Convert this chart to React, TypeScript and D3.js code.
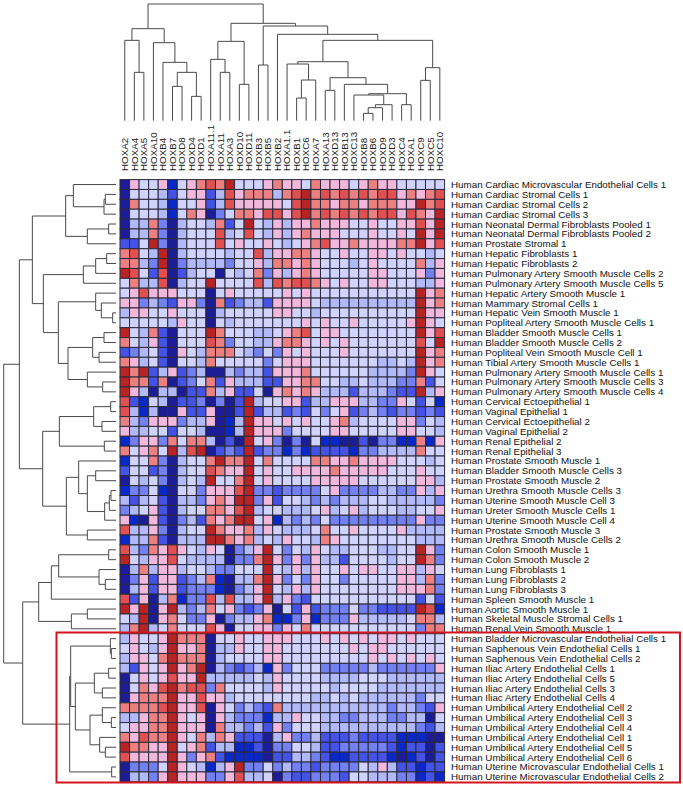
import React from "react";
import * as d3 from "d3";

const genes = ["HOXA2","HOXA4","HOXA5","HOXA10","HOXB4","HOXB7","HOXD8","HOXD4","HOXD1","HOXA11.1","HOXA11","HOXA3","HOXD10","HOXD11","HOXB3","HOXB5","HOXB2","HOXA1.1","HOXB1","HOXC6","HOXA7","HOXA13","HOXD13","HOXB13","HOXC13","HOXB8","HOXB6","HOXD9","HOXD3","HOXC4","HOXA1","HOXC9","HOXC5","HOXC10"];

const samples = [
"Cardiac Microvascular Endothelial Cells 1","Cardiac Stromal Cells 1","Cardiac Stromal Cells 2","Cardiac Stromal Cells 3","Neonatal Dermal Fibroblasts Pooled 1","Neonatal Dermal Fibroblasts Pooled 2","Prostate Stromal 1","Hepatic Fibroblasts 1","Hepatic Fibroblasts 2","Pulmonary Artery Smooth Muscle Cells 2","Pulmonary Artery Smooth Muscle Cells 5","Hepatic Artery Smooth Muscle 1","Mammary Stromal Cells 1","Hepatic Vein Smooth Muscle 1","Popliteal Artery Smooth Muscle Cells 1","Bladder Smooth Muscle Cells 1","Bladder Smooth Muscle Cells 2","Popliteal Vein Smooth Muscle Cell 1","Tibial Artery Smooth Muscle Cells 1","Pulmonary Artery Smooth Muscle Cells 1","Pulmonary Artery Smooth Muscle Cells 3","Pulmonary Artery Smooth Muscle Cells 4","Cervical Ectoepithelial 1","Vaginal Epithelial 1","Cervical Ectoepithelial 2","Vaginal Epithelial 2","Renal Epithelial 2","Renal Epithelial 3","Prostate Smooth Muscle 1","Bladder Smooth Muscle Cells 3","Prostate Smooth Muscle 2","Urethra Smooth Muscle Cells 3","Uterine Smooth Muscle Cell 3","Ureter Smooth Muscle Cells 1","Uterine Smooth Muscle Cell 4","Prostate Smooth Muscle 3","Urethra Smooth Muscle Cells 2","Colon Smooth Muscle 1","Colon Smooth Muscle 2","Lung Fibroblasts 1","Lung Fibroblasts 2","Lung Fibroblasts 3","Spleen Smooth Muscle 1","Aortic Smooth Muscle 1","Skeletal Muscle Stromal Cells 1","Renal Vein Smooth Muscle 1","Bladder Microvascular Endothelial Cells 1","Saphenous Vein Endothelial Cells 1","Saphenous Vein Endothelial Cells 2","Iliac Artery Endothelial Cells 1","Iliac Artery Endothelial Cells 5","Iliac Artery Endothelial Cells 3","Iliac Artery Endothelial Cells 4","Umbilical Artery Endothelial Cell 2","Umbilical Artery Endothelial Cell 3","Umbilical Artery Endothelial Cell 4","Umbilical Artery Endothelial Cell 1","Umbilical Artery Endothelial Cell 5","Umbilical Artery Endothelial Cell 6","Uterine Microvascular Endothelial Cells 1","Uterine Microvascular Endothelial Cells 2",
].map((s) => "Human " + s);

const expression = [
"0 6 5 5 6 1 5 6 7 8 7 9 5 5 5 6 7 6 6 5 7 6 6 6 5 6 7 6 6 5 5 5 5 5",
"0 5 5 5 4 2 5 6 6 2 4 8 6 7 7 7 4 7 8 9 7 8 7 8 7 8 7 8 8 6 7 6 7 8",
"0 7 5 5 4 1 5 5 6 2 4 8 6 6 6 6 6 5 8 9 7 7 6 7 7 6 7 7 7 6 6 9 7 8",
"0 5 5 5 4 1 5 7 6 0 3 5 7 7 6 8 8 6 8 9 7 8 7 8 7 8 7 8 8 6 8 7 6 9",
"0 4 4 7 3 0 4 5 5 4 7 2 5 9 5 4 6 4 6 6 7 6 6 6 5 5 6 5 5 6 6 8 6 9",
"0 4 4 7 3 0 4 5 5 5 8 4 5 8 5 4 6 4 6 7 6 6 6 5 5 5 6 5 5 6 5 9 6 9",
"2 2 5 9 3 0 4 5 5 5 8 5 6 5 5 6 5 4 5 6 7 8 6 6 7 6 6 6 6 7 7 9 6 8",
"7 8 5 4 9 0 4 5 5 5 5 4 5 5 8 4 6 6 7 7 6 5 5 6 5 5 6 6 5 6 5 5 4 5",
"7 7 4 3 9 0 3 4 4 4 4 3 5 5 6 4 7 7 6 7 6 5 5 5 4 5 6 5 5 5 5 7 4 6",
"9 8 5 2 8 0 2 4 5 5 0 5 4 5 7 3 6 4 6 7 6 5 5 5 5 5 6 6 5 5 5 6 3 6",
"5 7 4 4 8 0 4 5 5 9 5 5 5 5 8 4 8 7 8 8 7 6 5 6 5 5 6 6 5 5 5 4 4 6",
"5 6 8 6 6 6 5 5 5 0 5 6 5 5 5 5 5 6 5 6 5 5 5 5 5 5 5 5 5 5 5 9 6 7",
"6 6 3 4 3 2 6 6 3 0 7 2 3 4 4 2 6 6 6 6 5 4 4 4 4 4 4 4 4 4 4 9 6 7",
"4 6 6 5 5 6 5 5 5 0 4 5 5 5 5 5 6 6 5 5 4 5 5 5 5 5 5 5 5 5 5 9 6 6",
"5 5 5 5 5 4 6 5 5 0 5 4 5 5 5 5 5 5 5 6 5 6 5 5 6 5 5 5 5 5 6 9 6 5",
"9 5 4 7 2 0 5 5 5 9 7 5 5 5 4 4 5 6 7 8 5 6 6 5 5 5 5 5 5 5 5 9 6 8",
"7 5 4 6 2 0 5 5 5 8 7 3 5 5 4 4 6 7 7 6 5 6 5 6 5 5 5 5 5 5 5 8 5 9",
"2 3 4 5 2 0 6 5 4 7 7 7 5 4 3 5 3 6 5 6 5 5 5 6 5 5 5 5 5 5 5 9 6 7",
"7 6 4 5 2 0 5 5 4 7 5 5 5 5 5 3 5 6 6 6 5 5 5 5 5 5 5 4 4 5 4 9 6 7",
"9 7 9 2 4 6 2 3 4 0 0 4 3 4 4 2 6 6 6 7 5 5 5 5 5 5 4 4 4 4 3 9 6 5",
"9 7 7 2 7 0 2 3 5 7 2 6 4 4 4 2 2 6 6 7 7 5 5 4 4 5 4 4 4 3 3 7 2 5",
"9 6 4 0 4 4 0 2 2 7 4 6 2 2 5 0 6 7 6 7 6 4 4 4 2 4 4 4 3 2 2 9 4 6",
"8 2 1 5 4 0 2 2 3 0 3 0 2 9 4 5 5 6 6 2 4 4 6 6 6 4 4 3 3 6 5 2 5 1",
"8 4 1 4 0 0 6 2 2 6 0 0 2 9 2 4 4 2 3 2 5 3 5 6 2 3 4 3 2 3 3 2 3 2",
"7 4 3 6 6 6 3 4 4 6 0 1 4 9 6 6 5 6 5 6 5 5 6 7 4 5 5 5 5 6 6 3 5 4",
"6 4 4 5 5 2 5 5 4 0 0 1 4 9 6 6 6 3 5 5 5 5 6 6 5 5 5 5 5 6 6 5 5 4",
"1 3 6 6 3 7 5 7 7 4 0 2 0 9 5 6 3 0 3 0 5 1 1 0 0 2 0 3 3 1 1 7 1 6",
"7 5 6 7 5 9 4 8 9 0 2 3 2 9 2 3 3 1 3 1 2 2 2 2 1 3 3 4 4 4 4 7 5 5",
"1 5 5 7 3 0 4 5 5 7 9 7 7 9 5 7 5 5 5 5 7 7 6 6 7 6 6 6 6 5 5 5 4 5",
"2 5 5 2 3 0 4 5 5 8 7 6 6 9 5 6 5 5 6 6 6 6 7 6 6 6 6 6 5 5 5 6 5 5",
"0 5 4 5 3 0 4 5 4 9 5 5 7 9 5 6 5 5 5 5 6 6 6 6 6 5 5 5 5 5 5 6 6 4",
"1 3 3 5 1 0 5 5 3 6 6 6 8 9 3 3 2 3 3 3 3 5 6 3 3 3 3 4 4 3 3 6 4 6",
"4 2 4 5 2 0 4 4 3 6 7 6 9 9 3 6 2 5 5 4 3 4 3 4 4 4 5 5 4 4 4 4 4 3",
"3 4 5 6 2 0 4 5 5 7 7 6 8 9 4 5 5 4 4 4 5 6 4 5 6 4 5 5 5 4 4 5 5 6",
"6 1 0 6 2 0 3 4 2 7 6 7 9 9 5 6 1 4 3 4 3 5 3 3 3 3 3 3 3 3 3 6 3 3",
"8 4 4 6 3 0 4 5 5 9 7 6 6 7 4 6 5 4 4 4 5 7 5 5 6 5 5 5 5 6 4 4 4 4",
"1 4 4 7 2 0 4 4 4 9 9 7 6 7 4 5 4 6 5 5 4 7 6 5 5 5 5 5 5 5 5 4 4 4",
"8 4 3 7 6 8 6 5 4 6 5 0 3 4 6 9 5 3 5 4 6 5 4 4 5 5 5 4 4 5 5 9 6 3",
"9 5 4 6 6 8 5 4 4 4 4 0 3 3 7 9 6 3 6 3 6 4 4 2 5 5 5 5 4 5 5 9 7 3",
"0 4 7 4 6 6 4 5 5 4 3 3 5 5 5 9 5 4 6 4 6 5 5 6 5 6 6 5 5 6 6 4 6 5",
"0 3 6 2 6 6 2 3 4 7 1 0 4 4 7 9 6 3 5 3 6 5 5 3 5 5 5 5 5 6 6 4 7 3",
"0 4 6 2 6 6 2 3 3 3 1 0 3 4 6 9 5 4 6 4 6 5 5 5 5 5 5 5 5 6 6 6 7 3",
"8 2 6 0 4 7 1 3 3 8 4 8 4 4 6 9 4 6 3 2 5 5 5 5 5 5 5 5 5 5 5 2 5 2",
"9 6 9 0 6 9 4 3 4 7 5 6 3 2 3 6 0 5 2 6 2 3 3 3 5 3 3 2 2 2 2 9 8 1",
"5 4 9 0 6 7 5 3 3 6 0 3 4 4 6 7 1 1 3 6 1 3 3 3 6 4 4 4 4 4 5 7 7 4",
"4 7 9 4 5 7 5 5 5 8 6 0 5 5 6 6 3 6 5 7 5 5 5 5 5 5 5 5 5 5 5 3 7 7",
"4 6 5 5 6 9 7 7 7 0 5 5 6 5 5 6 6 6 5 5 5 6 5 6 5 6 5 6 6 5 6 5 5 5",
"5 6 5 4 6 9 6 6 7 0 4 4 6 5 5 6 6 5 5 5 5 5 5 5 6 5 6 6 5 5 5 5 5 5",
"4 6 6 5 7 9 7 7 7 0 4 5 5 5 5 6 6 5 5 5 5 5 5 5 5 5 6 5 6 5 6 5 6 5",
"4 2 6 5 6 9 6 7 9 0 4 3 2 3 4 1 6 3 5 5 5 3 3 3 3 3 4 3 3 3 3 3 3 6",
"0 5 6 5 6 8 6 6 9 4 4 4 4 4 5 4 6 5 5 5 5 4 4 4 4 5 5 5 4 4 4 4 4 4",
"0 5 7 6 8 9 7 8 8 3 7 5 5 5 5 4 6 5 5 5 5 5 4 5 5 5 5 4 4 4 4 4 4 4",
"0 6 7 7 7 9 6 6 8 6 6 4 5 5 5 5 5 5 5 5 4 4 5 4 5 4 4 4 4 4 4 3 5 5",
"7 7 7 7 8 9 6 6 8 0 6 5 3 4 3 2 7 4 4 4 4 4 4 4 4 4 4 4 3 4 4 3 2 6",
"4 4 6 7 7 9 6 5 6 0 6 4 3 3 3 1 4 4 6 5 5 4 4 3 3 4 4 4 3 3 4 4 0 5",
"5 6 6 7 7 9 6 6 6 0 7 4 4 3 4 2 6 3 5 5 5 4 4 4 4 4 4 4 4 4 4 3 2 4",
"7 6 8 7 7 9 6 5 7 4 7 6 2 2 2 0 4 6 3 3 4 2 2 2 3 2 2 2 2 1 1 1 0 0",
"9 7 7 6 6 9 5 6 7 2 4 4 1 1 2 0 3 3 5 5 4 2 2 3 3 3 3 3 2 1 2 2 0 2",
"8 6 6 6 6 9 6 3 6 7 2 1 1 1 1 0 2 2 4 4 3 2 1 1 2 2 2 2 1 0 1 2 0 2",
"0 3 3 3 5 9 6 5 4 1 4 6 9 3 3 5 3 4 3 3 2 3 3 3 3 5 4 6 4 2 2 1 2 2",
"0 4 4 3 6 9 6 6 6 3 3 6 8 4 4 5 0 3 2 2 3 3 3 2 5 5 4 4 4 3 3 1 2 1",
].map((r) => r.split(" ").map(Number));

const levelColors = ["#1c1c96","#0a28c8","#4452e6","#7280f2","#b2b9f9","#cfd3fd","#f2b8dc","#ec8080","#e05050","#b82424"];

type Node = number | [number, Node, Node];

// Row tree: [merge distance, child, child]; plain numbers are row indices.
const rowTree: Node = [337,
  [290,
    [251,
      [151, [128, 0, [36, [32, 1, 2], 3]], [86, [22, 4, 5], 6]],
      [218,
        [98, [61, [28, 7, 8], 9], 10],
        [173,
          [61, 11, [44, 12, [10, 13, 14]]],
          [144, [70, [36, 15, 16], [51, 17, 18]], [86, 19, [40, 20, 21]]],
        ],
      ],
    ],
    [220,
      [170, [67, [16, 22, 23], [42, 24, 25]], [35, 26, 27]],
      [149,
        [112, 28, [86, [61, 29, 30], [34, [20, [15, 31, 32], 33], 34]]],
        [86, 35, 36],
      ],
    ],
  ],
  [280,
    [232,
      [194, [172, [22, 37, 38], [51, 39, [32, 40, 41]]], 42],
      [134, [86, 43, 44], 45],
    ],
    [139,
      [136,
        [17, 46, [14, 47, 48]],
        [122,
          [65, [22, 49, 50], [41, 51, 52]],
          [78, [41, 53, [14, 54, 55]], [49, 56, [32, 57, 58]]],
        ],
      ],
      [13, 59, 60],
    ],
  ],
];

// Column tree: same form; plain numbers are column indices.
const colTree: Node = [350,
  [276,
    [241, 0, [145, 1, 2]],
    [234,
      3,
      [175, 4, [145, [103, 5, 6], [73, 7, 8]]],
    ],
  ],
  [292,
    [238,
      [184, 9, [145, 10, 11]],
      [109, 12, 13],
    ],
    [284,
      [167, 14, 15],
      [259,
        16,
        [241,
          [177,
            [170, 17, [122, [68, 18, 19], 20]],
            [129,
              [91, 21, 22],
              [109,
                23,
                [81,
                  [77, 24, [48, [39, [22, 25, 26], 27], 28]],
                  [48, 29, 30],
                ],
              ],
            ],
          ],
          [159, [121, 31, 32], 33],
        ],
      ],
    ],
  ],
];

const W = 683, H = 786;
const gridX0 = 120, gridX1 = 444.6, gridY0 = 179.6, gridY1 = 781.8;

const xScale = d3.scaleBand<number>().domain(d3.range(genes.length)).range([gridX0, gridX1]);
const yScale = d3.scaleBand<number>().domain(d3.range(samples.length)).range([gridY0, gridY1]);
const color = d3.scaleOrdinal<number, string>().domain(d3.range(10)).range(levelColors);
const rowDist = d3.scaleLinear().domain([0, 337]).range([116, 3.7]);
const colDist = d3.scaleLinear().domain([0, 350]).range([120.7, 4]);

function dendroPath(tree: Node, leafPos: (i: number) => number, dist: (d: number) => number, horizontal: boolean) {
  const root = d3.hierarchy<Node>(tree, (n) => (Array.isArray(n) ? [n[1], n[2]] : null));
  const pos = new Map<any, { p: number; h: number }>();
  root.eachAfter((n: any) => {
    if (n.children) {
      const ps = n.children.map((c: any) => pos.get(c).p);
      pos.set(n, { p: d3.mean(ps) as number, h: n.data[0] });
    } else pos.set(n, { p: leafPos(n.data), h: 0 });
  });
  const path = d3.path();
  const seg = (p1: number, d1: number, p2: number, d2: number) => {
    if (horizontal) { path.moveTo(dist(d1), p1); path.lineTo(dist(d2), p2); }
    else { path.moveTo(p1, dist(d1)); path.lineTo(p2, dist(d2)); }
  };
  root.each((n: any) => {
    if (!n.children) return;
    const me = pos.get(n);
    const [a, b] = n.children.map((c: any) => pos.get(c));
    seg(a.p, a.h, a.p, me.h);
    seg(a.p, me.h, b.p, me.h);
    seg(b.p, me.h, b.p, b.h);
  });
  return path.toString();
}

const FONT = "'Liberation Sans', Arial, sans-serif";

export default function App() {
  const rowPath = dendroPath(rowTree, (i) => (yScale(i) as number) + yScale.bandwidth() / 2, rowDist, true);
  const colPath = dendroPath(colTree, (i) => (xScale(i) as number) + xScale.bandwidth() / 2, colDist, false);
  return (
    <svg width={W} height={H} viewBox={`0 0 ${W} ${H}`} style={{ position: "absolute", left: 0, top: 0, background: "#fff" }}>
      <path d={colPath} fill="none" stroke="#4a4a4a" strokeWidth={1} />
      <path d={rowPath} fill="none" stroke="#4a4a4a" strokeWidth={1} />
      <g>
        {expression.map((row, r) =>
          row.map((v, c) => (
            <rect key={`${r}-${c}`} x={xScale(c)} y={yScale(r)} width={xScale.bandwidth()} height={yScale.bandwidth()} fill={color(v)} stroke="#2a2a3a" strokeWidth={1} />
          ))
        )}
      </g>
      <g fontFamily={FONT} fontSize={9.8} fill="#222">
        {genes.map((g, i) => {
          const x = (xScale(i) as number) + xScale.bandwidth() / 2 + 3.3;
          return <text key={g} transform={`translate(${x},171) rotate(-90)`}>{g}</text>;
        })}
      </g>
      <g fontFamily={FONT} fontSize={9.8} fill="#111">
        {samples.map((s, i) => (
          <text key={s} x={451} y={(yScale(i) as number) + yScale.bandwidth() / 2 + 3.5}>{s}</text>
        ))}
      </g>
      <rect x={56.5} y={632.5} width={623.5} height={150} fill="none" stroke="#d2141e" strokeWidth={2} />
    </svg>
  );
}
